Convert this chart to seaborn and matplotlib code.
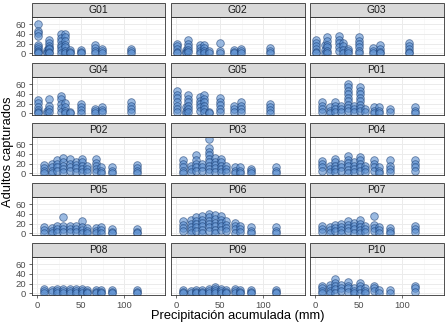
import numpy as np
import pandas as pd
import seaborn as sns
import matplotlib
matplotlib.use("Agg")
import matplotlib.pyplot as plt
from matplotlib.patches import Rectangle
from matplotlib.ticker import MultipleLocator, FixedLocator

# ---------------- data ----------------
precip_G = [1, 11, 14, 27, 32, 38, 50, 66, 74, 108]
precip_P = [8, 17, 23, 30, 38, 44, 51, 57, 67, 73, 86, 114]

G01 = [[60, 46, 42, 36, 18, 12, 8, 5, 2, 0], [6, 3, 0], [28, 22, 15, 11, 8, 3, 0], [40, 32, 25, 18, 12, 6, 0],
       [40, 33, 25, 18, 12, 5, 0], [6, 2, 0], [6, 2, 0], [18, 10, 5, 0], [8, 4, 0], [9, 5, 0]]
G02 = [[20, 14, 8, 2, 0], [6, 2, 0], [27, 20, 13, 7, 2], [16, 10, 4, 0], [16, 10, 5, 0], [4, 0],
       [22, 5, 0], [6, 2, 0], [8, 4, 0], [10, 5, 0]]
G03 = [[28, 22, 15, 8, 2, 0], [16, 6, 0], [33, 25, 18, 12, 5, 0], [36, 28, 22, 12, 5], [22, 14, 6, 0],
       [8, 4, 0], [33, 26, 20, 12, 5, 0], [10, 5, 0], [16, 8, 3, 0], [21, 15, 8, 3, 0]]
G04 = [[28, 22, 12, 6, 2, 0], [4, 0], [30, 16, 9, 2], [36, 30, 20, 10, 3], [22, 13, 4, 0], [2, 0],
       [20, 13, 6, 0], [9, 4, 0], [12, 7, 2], [23, 16, 9, 2]]
G05 = [[45, 38, 32, 23, 16, 9, 2], [12, 5, 0], [37, 30, 23, 16, 9, 2], [33, 26, 20, 13, 5],
       [37, 30, 23, 16, 9, 2], [2, 0], [31, 24, 17, 9, 2], [16, 9, 2], [23, 16, 9, 2], [20, 13, 6, 0]]

P01 = [[23, 16, 9, 2], [12, 5, 0], [23, 16, 9, 2], [16, 9, 2], [60, 53, 46, 39, 32, 25, 18, 11, 4],
       [16, 9, 2], [53, 46, 39, 32, 25, 18, 11, 4], [9, 2], [12, 5, 0], [12, 5, 0], [9, 2], [12, 5, 0]]
P02 = [[18, 11, 4, 0], [20, 12, 5, 0], [27, 20, 13, 5], [31, 23, 16, 9, 2], [29, 20, 13, 5],
       [24, 17, 10, 3], [30, 23, 16, 9, 2], [16, 9, 2], [29, 22, 15, 8, 2], [12, 5, 0], [13, 5, 0],
       [18, 11, 4, 0]]
P03 = [[27, 20, 13, 5, 0], [16, 9, 2], [37, 27, 20, 13, 5], [20, 13, 5], [71, 51, 44, 37, 30, 23, 16, 9, 2],
       [31, 24, 17, 10, 3], [30, 23, 16, 9, 2], [16, 9, 2], [12, 5, 0], [12, 5, 0], [9, 4, 0], [12, 5, 0]]
P04 = [[26, 20, 12, 5], [16, 9, 2], [30, 23, 16, 9, 2], [20, 12, 5], [35, 28, 21, 14, 7, 0],
       [23, 16, 9, 2], [33, 27, 20, 13, 5], [16, 9, 2], [28, 20, 13, 5], [12, 5, 0], [27, 16, 9, 2],
       [28, 20, 12, 5]]
P05 = [[12, 6, 0], [10, 4, 0], [15, 8, 2], [33, 14, 8, 2], [15, 9, 3], [14, 8, 2], [25, 12, 6, 0],
       [10, 4, 0], [10, 5, 0], [12, 6, 0], [8, 3, 0], [8, 3, 0]]
P06 = [[25, 18, 11, 4], [28, 20, 13, 6, 0], [33, 26, 19, 12, 5], [35, 28, 21, 14, 7, 0],
       [40, 33, 26, 19, 12, 5], [38, 30, 22, 14, 7, 0], [35, 28, 21, 14, 7], [25, 18, 11, 4],
       [22, 15, 8, 1], [15, 8, 2], [12, 5, 0], [12, 5, 0]]
P07 = [[15, 9, 3], [12, 6, 0], [18, 11, 4], [20, 13, 6, 0], [25, 18, 11, 4], [22, 15, 8, 1],
       [28, 20, 13, 6, 0], [15, 8, 2], [35, 18, 11, 4], [12, 6, 0], [10, 4, 0], [15, 8, 2]]
P08 = [[8, 4, 0], [6, 2], [8, 4, 0], [8, 4, 0], [9, 5, 0], [8, 4, 0], [9, 5, 0], [7, 3, 0], [6, 2, 0],
       [7, 3, 0], [6, 2, 0], [6, 2, 0]]
P09 = [[6, 2, 0], [5, 1], [6, 2, 0], [6, 2, 0], [8, 4, 0], [13, 8, 4, 0], [9, 5, 0], [6, 2, 0],
       [8, 4, 0], [6, 2, 0], [6, 2, 0], [6, 2, 0]]
P10 = [[16, 10, 4, 0], [18, 11, 5, 0], [30, 21, 15, 8, 1], [18, 11, 5], [23, 16, 10, 3], [11, 5, 0],
       [22, 15, 8, 1], [11, 5, 0], [16, 10, 4], [6, 1], [6, 1], [16, 10, 3]]

sites = ["G01", "G02", "G03", "G04", "G05", "P01", "P02", "P03", "P04", "P05",
         "P06", "P07", "P08", "P09", "P10"]
site_data = [G01, G02, G03, G04, G05, P01, P02, P03, P04, P05, P06, P07, P08, P09, P10]

x_ticks = [0, 50, 100]
y_ticks = [0, 20, 40, 60]

rows = []
for site, cols in zip(sites, site_data):
    xs = precip_G if site.startswith("G") else precip_P
    for xv, ys in zip(xs, cols):
        for yv in ys:
            rows.append((site, xv, yv))
df = pd.DataFrame(rows, columns=["site", "precip", "adults"])

# ---------------- plot ----------------
sns.set_theme(style="white")
plt.rcParams["font.family"] = ["Liberation Sans", "DejaVu Sans"]

W, H = 445, 323
g = sns.FacetGrid(df, col="site", col_order=sites, col_wrap=3, sharex=True, sharey=True,
                  height=1, aspect=1.5, despine=False)
g.map_dataframe(sns.scatterplot, x="precip", y="adults", s=30, color="#5b8fd0",
                edgecolor="#163a70", linewidth=0.6, alpha=0.6)
fig = g.figure
fig.set_size_inches(W / 100, H / 100)

lefts = [31.5, 170.5, 309.5]
pw = 134.0
strip_h = 14.0
ph = 38.0
for i, ax in enumerate(g.axes.flat):
    r, c = divmod(i, 3)
    top_strip = 3 + 60 * r
    ptop = top_strip + strip_h
    ax.set_position([lefts[c] / W, 1 - (ptop + ph) / H, pw / W, ph / H])
    ax.set_xlim(-6.5, 147)
    ax.set_ylim(-3.5, 74.5)
    ax.set_facecolor("white")
    ax.xaxis.set_major_locator(FixedLocator(x_ticks))
    ax.yaxis.set_major_locator(FixedLocator(y_ticks))
    ax.xaxis.set_minor_locator(MultipleLocator(25))
    ax.yaxis.set_minor_locator(MultipleLocator(10))
    ax.grid(True, which="major", color="#EBEBEB", linewidth=0.7)
    ax.grid(True, which="minor", color="#F4F4F4", linewidth=0.4)
    ax.set_axisbelow(True)
    for sp in ax.spines.values():
        sp.set_color("#333333")
        sp.set_linewidth(0.6)
    ax.tick_params(which="major", length=2.5, width=0.5, color="#333333",
                   labelsize=6.8, labelcolor="#4D4D4D", pad=1.5,
                   left=(c == 0), labelleft=(c == 0),
                   bottom=(r == 4), labelbottom=(r == 4))
    ax.tick_params(which="minor", length=0)
    ax.set_xlabel("")
    ax.set_ylabel("")
    ax.set_title("")
    # strip
    ax.add_patch(Rectangle((0, 1), 1, strip_h / ph, transform=ax.transAxes, clip_on=False,
                           facecolor="#D9D9D9", edgecolor="#333333", linewidth=0.6))
    ax.text(0.5, 1 + strip_h / ph / 2, sites[i], transform=ax.transAxes, ha="center",
            va="center", fontsize=7.5, color="#1A1A1A")

fig.text(238 / W, 1 - 316 / H, "Precipitación acumulada (mm)", ha="center", va="center",
         fontsize=9.3, color="black")
fig.text(8 / W, 1 - 152 / H, "Adultos capturados", ha="center", va="center",
         rotation=90, fontsize=9.3, color="black")

fig.savefig("out.png", dpi=100)
